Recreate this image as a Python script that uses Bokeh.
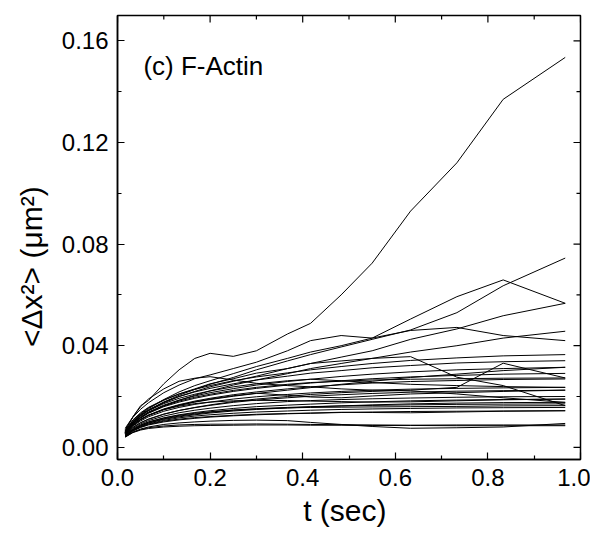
from bokeh.plotting import figure
from bokeh.models import LinearAxis, FixedTicker, NumeralTickFormatter, Label
from bokeh.embed import file_html
from bokeh.resources import INLINE

# lag times (s)
t_sec = [0.0167, 0.0333, 0.05, 0.0667, 0.1, 0.133, 0.167, 0.2, 0.25, 0.3,
         0.367, 0.417, 0.483, 0.55, 0.633, 0.733, 0.833, 0.967]

# mean-square displacement traces (um^2), one per tracked bead
msd_01 = [0.0075, 0.012, 0.0164, 0.0184, 0.025, 0.0305, 0.035, 0.037, 0.0358, 0.038, 0.0446, 0.0488, 0.060, 0.0725, 0.093, 0.112, 0.137, 0.1535]
msd_02 = [0.006, 0.0098, 0.0125, 0.0145, 0.0178, 0.0205, 0.0228, 0.0248, 0.0275, 0.0305, 0.034, 0.0365, 0.0395, 0.0425, 0.0462, 0.053, 0.0636, 0.0745]
msd_03 = [0.0062, 0.0102, 0.013, 0.0152, 0.0188, 0.0218, 0.0243, 0.0262, 0.029, 0.0318, 0.035, 0.0375, 0.040, 0.043, 0.0505, 0.0593, 0.0659, 0.0567]
msd_04 = [0.0065, 0.0105, 0.0133, 0.0155, 0.0185, 0.021, 0.023, 0.025, 0.027, 0.0292, 0.031, 0.033, 0.0355, 0.038, 0.0425, 0.0466, 0.0518, 0.0567]
msd_05 = [0.007, 0.0118, 0.015, 0.0175, 0.0215, 0.0245, 0.027, 0.0285, 0.031, 0.0335, 0.038, 0.042, 0.044, 0.043, 0.046, 0.0472, 0.044, 0.042]
msd_06 = [0.0058, 0.0092, 0.0115, 0.0135, 0.0163, 0.0185, 0.0205, 0.0222, 0.0245, 0.0265, 0.029, 0.031, 0.033, 0.035, 0.0375, 0.040, 0.043, 0.0457]
msd_07 = [0.0065, 0.0108, 0.0136, 0.0157, 0.0187, 0.021, 0.0228, 0.0243, 0.0262, 0.0277, 0.0293, 0.0305, 0.0318, 0.033, 0.0342, 0.0352, 0.036, 0.0365]
msd_08 = [0.0065, 0.012, 0.016, 0.019, 0.023, 0.026, 0.0272, 0.0278, 0.0265, 0.0252, 0.0243, 0.0238, 0.023, 0.0225, 0.0222, 0.021, 0.0195, 0.0177]
msd_09 = [0.006, 0.0098, 0.0125, 0.0145, 0.0175, 0.020, 0.022, 0.0238, 0.026, 0.028, 0.031, 0.033, 0.034, 0.035, 0.0357, 0.0276, 0.0243, 0.0164]
msd_10 = [0.005, 0.0078, 0.0097, 0.011, 0.013, 0.0145, 0.0157, 0.0167, 0.018, 0.019, 0.020, 0.0208, 0.0215, 0.022, 0.0225, 0.0236, 0.0331, 0.0273]
msd_11 = [0.0062, 0.010, 0.0128, 0.0148, 0.0178, 0.020, 0.0218, 0.0232, 0.025, 0.0265, 0.028, 0.0292, 0.0302, 0.0313, 0.0322, 0.0332, 0.0337, 0.0341]
msd_12 = [0.0058, 0.0095, 0.012, 0.0139, 0.0166, 0.0186, 0.0202, 0.0215, 0.0231, 0.0245, 0.0259, 0.0268, 0.0279, 0.0288, 0.0297, 0.0305, 0.031, 0.0315]
msd_13 = [0.0057, 0.0092, 0.0116, 0.0134, 0.016, 0.0178, 0.0193, 0.0205, 0.022, 0.0232, 0.0245, 0.0253, 0.0262, 0.027, 0.0277, 0.0283, 0.0288, 0.0291]
msd_14 = [0.0055, 0.0088, 0.011, 0.0127, 0.0151, 0.0168, 0.0182, 0.0193, 0.0207, 0.0218, 0.023, 0.0238, 0.0246, 0.0253, 0.0259, 0.0263, 0.0267, 0.0269]
msd_15 = [0.0052, 0.0083, 0.0104, 0.012, 0.0142, 0.0157, 0.0169, 0.0178, 0.019, 0.0199, 0.0208, 0.0214, 0.022, 0.0225, 0.0229, 0.0232, 0.0234, 0.0236]
msd_16 = [0.005, 0.0078, 0.0097, 0.0111, 0.0131, 0.0145, 0.0156, 0.0165, 0.0177, 0.0186, 0.0195, 0.0201, 0.0207, 0.0212, 0.0217, 0.0221, 0.0223, 0.0225]
msd_17 = [0.0048, 0.0074, 0.0092, 0.0105, 0.0123, 0.0136, 0.0146, 0.0154, 0.0164, 0.0172, 0.018, 0.0184, 0.0188, 0.0191, 0.0194, 0.0197, 0.0199, 0.020]
msd_18 = [0.0047, 0.0071, 0.0088, 0.010, 0.0116, 0.0128, 0.0137, 0.0144, 0.0153, 0.016, 0.0166, 0.017, 0.0175, 0.0179, 0.0183, 0.0186, 0.0188, 0.019]
msd_19 = [0.0045, 0.0068, 0.0084, 0.0095, 0.011, 0.012, 0.0128, 0.0135, 0.0143, 0.0149, 0.0155, 0.0159, 0.0163, 0.0167, 0.0171, 0.0174, 0.0176, 0.0177]
msd_20 = [0.0046, 0.007, 0.0087, 0.0099, 0.0115, 0.0126, 0.0134, 0.014, 0.0147, 0.0152, 0.0157, 0.016, 0.0163, 0.0165, 0.0167, 0.0169, 0.017, 0.0171]
msd_21 = [0.0044, 0.0066, 0.0081, 0.0092, 0.0106, 0.0116, 0.0123, 0.0128, 0.0134, 0.0139, 0.0143, 0.0146, 0.0149, 0.0151, 0.0153, 0.0155, 0.0156, 0.0157]
msd_22 = [0.0043, 0.0064, 0.0078, 0.0088, 0.010, 0.0108, 0.0114, 0.0119, 0.0124, 0.0128, 0.0132, 0.0134, 0.0137, 0.0139, 0.0141, 0.0142, 0.0143, 0.0144]
msd_23 = [0.0042, 0.006, 0.0072, 0.008, 0.009, 0.0096, 0.010, 0.0103, 0.0106, 0.0107, 0.0105, 0.0098, 0.009, 0.0082, 0.0075, 0.0077, 0.008, 0.0094]
msd_24 = [0.004, 0.0058, 0.0068, 0.0074, 0.008, 0.0083, 0.0085, 0.0086, 0.0087, 0.0088, 0.0088, 0.0087, 0.0087, 0.0086, 0.0086, 0.0085, 0.0085, 0.0085]
msd_25 = [0.0058, 0.0093, 0.0118, 0.0137, 0.0163, 0.0182, 0.0197, 0.0209, 0.0224, 0.0236, 0.0248, 0.0255, 0.026, 0.0265, 0.0268, 0.027, 0.0272, 0.0273]
msd_26 = [0.0053, 0.0085, 0.0108, 0.0125, 0.0149, 0.0166, 0.0179, 0.019, 0.0203, 0.0213, 0.0205, 0.0198, 0.0195, 0.0202, 0.021, 0.0215, 0.022, 0.0225]
msd_27 = [0.0055, 0.0088, 0.011, 0.0126, 0.0148, 0.0162, 0.0172, 0.0178, 0.0183, 0.0185, 0.0184, 0.0182, 0.018, 0.0178, 0.0179, 0.0183, 0.0187, 0.019]
msd_28 = [0.0045, 0.0068, 0.0084, 0.0096, 0.0112, 0.0123, 0.0131, 0.0138, 0.0146, 0.0151, 0.0155, 0.0157, 0.0158, 0.0159, 0.016, 0.0161, 0.0163, 0.0164]
msd_29 = [0.0056, 0.0088, 0.011, 0.0126, 0.0149, 0.0165, 0.0178, 0.0188, 0.0201, 0.0212, 0.0225, 0.0235, 0.0248, 0.026, 0.0275, 0.0288, 0.0302, 0.0315]
msd_30 = [0.006, 0.0098, 0.0124, 0.0144, 0.0172, 0.0193, 0.0209, 0.0222, 0.0238, 0.025, 0.0262, 0.0268, 0.0262, 0.0255, 0.0248, 0.0243, 0.0239, 0.0236]
msd_31 = [0.0044, 0.0066, 0.008, 0.009, 0.0103, 0.0111, 0.0117, 0.0121, 0.0126, 0.013, 0.0133, 0.0135, 0.0138, 0.0137, 0.0136, 0.0139, 0.0142, 0.0144]
msd_32 = [0.0041, 0.0059, 0.007, 0.0077, 0.0084, 0.0088, 0.009, 0.0091, 0.0091, 0.0092, 0.0091, 0.009, 0.0089, 0.0088, 0.0087, 0.0088, 0.0088, 0.0088]

tracks = [msd_01, msd_02, msd_03, msd_04, msd_05, msd_06, msd_07, msd_08,
          msd_09, msd_10, msd_11, msd_12, msd_13, msd_14, msd_15, msd_16,
          msd_17, msd_18, msd_19, msd_20, msd_21, msd_22, msd_23, msd_24,
          msd_25, msd_26, msd_27, msd_28, msd_29, msd_30, msd_31, msd_32]

x_major = [0.0, 0.2, 0.4, 0.6, 0.8, 1.0]
x_minor = [0.1, 0.3, 0.5, 0.7, 0.9]
y_major = [0.0, 0.04, 0.08, 0.12, 0.16]
y_minor = [0.02, 0.06, 0.10, 0.14]

x_title = "t (sec)\u00a0"
y_title = "<Δx²> (μm²)" + "\u00a0" * 7
panel_tag = "(c) F-Actin"

FONT = "Liberation Sans"
TICK_PX = "24px"
LABEL_PX = "30px"

X0, X1 = 0.0, 1.0
Y0, Y1 = -0.0048, 0.170
FW, FH = 463, 444
MAJ, MIN = 7, 4

p = figure(frame_width=FW, frame_height=FH, x_range=(X0, X1), y_range=(Y0, Y1),
           output_backend="svg", toolbar_location=None,
           min_border_left=117, min_border_right=10, min_border_top=15,
           min_border_bottom=5, x_axis_location=None, y_axis_location=None)
p.grid.visible = False
p.outline_line_color = "black"
p.outline_line_width = 1.5
p.background_fill_color = "white"
p.border_fill_color = "white"

for tr in tracks:
    p.line(t_sec, tr, line_color="black", line_width=1)


def style_axis(ax):
    ax.axis_line_color = "black"
    ax.axis_line_width = 1.5
    ax.major_tick_line_color = "black"
    ax.major_tick_line_width = 1.2
    ax.minor_tick_line_color = "black"
    ax.minor_tick_line_width = 1.2
    ax.major_tick_in = MAJ
    ax.major_tick_out = 0
    ax.minor_tick_in = MIN
    ax.minor_tick_out = 0
    ax.major_label_text_font = FONT
    ax.major_label_text_font_size = TICK_PX
    ax.major_label_text_color = "black"
    ax.axis_label_text_font = FONT
    ax.axis_label_text_font_size = LABEL_PX
    ax.axis_label_text_font_style = "normal"
    ax.axis_label_text_color = "black"


xb = LinearAxis(ticker=FixedTicker(ticks=x_major, minor_ticks=x_minor),
                formatter=NumeralTickFormatter(format="0.0"), axis_label=x_title)
style_axis(xb)
xb.major_label_standoff = 9
xb.axis_label_standoff = 5
p.add_layout(xb, "below")

yl = LinearAxis(ticker=FixedTicker(ticks=y_major, minor_ticks=y_minor),
                formatter=NumeralTickFormatter(format="0.00"), axis_label=y_title)
style_axis(yl)
yl.major_label_standoff = 9
yl.axis_label_standoff = 11
p.add_layout(yl, "left")

# mirror ticks on the top and right edges (inward), no labels
px_x = (X1 - X0) / FW
px_y = (Y1 - Y0) / FH
p.segment(x0=x_major, y0=[Y1] * len(x_major), x1=x_major,
          y1=[Y1 - MAJ * px_y] * len(x_major), line_color="black", line_width=1.2)
p.segment(x0=x_minor, y0=[Y1] * len(x_minor), x1=x_minor,
          y1=[Y1 - MIN * px_y] * len(x_minor), line_color="black", line_width=1.2)
p.segment(x0=[X1] * len(y_major), y0=y_major, x1=[X1 - MAJ * px_x] * len(y_major),
          y1=y_major, line_color="black", line_width=1.2)
p.segment(x0=[X1] * len(y_minor), y0=y_minor, x1=[X1 - MIN * px_x] * len(y_minor),
          y1=y_minor, line_color="black", line_width=1.2)

# panel tag
p.add_layout(Label(x=0.056, y=0.150, text=panel_tag, text_font=FONT,
                   text_font_size="26px", text_color="black",
                   text_baseline="middle", text_align="left"))

open("out.html", "w").write(file_html(p, INLINE))
